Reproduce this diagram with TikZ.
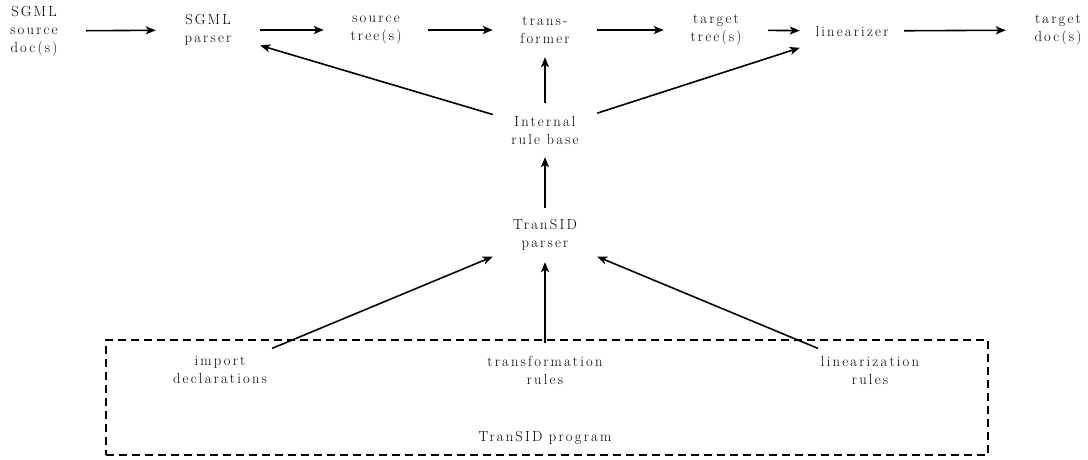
\documentclass[tikz,border=0pt]{standalone}
\usepackage{fontspec}
\setmainfont{Latin Modern Roman}[LetterSpace=15]
\usetikzlibrary{arrows.meta}
\tikzset{proc/.style={align=center,minimum width=104pt,minimum height=54pt,inner sep=0pt,font=\fontsize{14.6}{18}\selectfont},flux/.style={-{Stealth[length=10pt,width=8pt,inset=2.5pt]},line width=1.6pt},cadre/.style={draw,dash pattern=on 8pt off 5pt,line width=1.4pt,minimum width=882pt,minimum height=115pt,inner sep=0pt}}
\begin{document}
\begin{tikzpicture}[x=1pt,y=-1pt]
\useasboundingbox (0,0) rectangle (1088,459);
% pipeline along the top
\node[proc] (srcdoc) at (34,31) {SGML\\source\\doc(s)};
\node[proc] (sgmlp) at (208,30) {SGML\\parser};
\node[proc] (srctree) at (376,30) {source\\tree(s)};
\node[proc] (transf) at (545,30) {trans-\\former};
\node[proc] (tgttree) at (716,30) {target\\tree(s)};
\node[proc] (lin) at (852,31) {linearizer};
\node[proc] (tgtdoc) at (1058,30) {target\\doc(s)};
% rule base and TranSID parser
\node[proc] (rules) at (545,130) {Internal\\rule base};
\node[proc] (tsp) at (545,235) {TranSID\\parser};
% TranSID program
\node[cadre] (prog) at (547,397.5) {};
\node[proc] (imp) at (220,370) {import\\declarations};
\node[proc] (trule) at (545,370) {transformation\\rules};
\node[proc] (lrule) at (870,370) {linearization\\rules};
\node[proc] (progname) at (545,438) {TranSID program};
\draw[flux] (srcdoc)--(sgmlp);
\draw[flux] (sgmlp)--(srctree);
\draw[flux] (srctree)--(transf);
\draw[flux] (transf)--(tgttree);
\draw[flux] (tgttree)--(lin);
\draw[flux] (lin)--(tgtdoc);
\draw[flux] (rules)--(sgmlp);
\draw[flux] (rules)--(transf);
\draw[flux] (rules)--(lin);
\draw[flux] (tsp)--(rules);
\draw[flux] (imp)--(tsp);
\draw[flux] (trule)--(tsp);
\draw[flux] (lrule)--(tsp);
\end{tikzpicture}
\end{document}
